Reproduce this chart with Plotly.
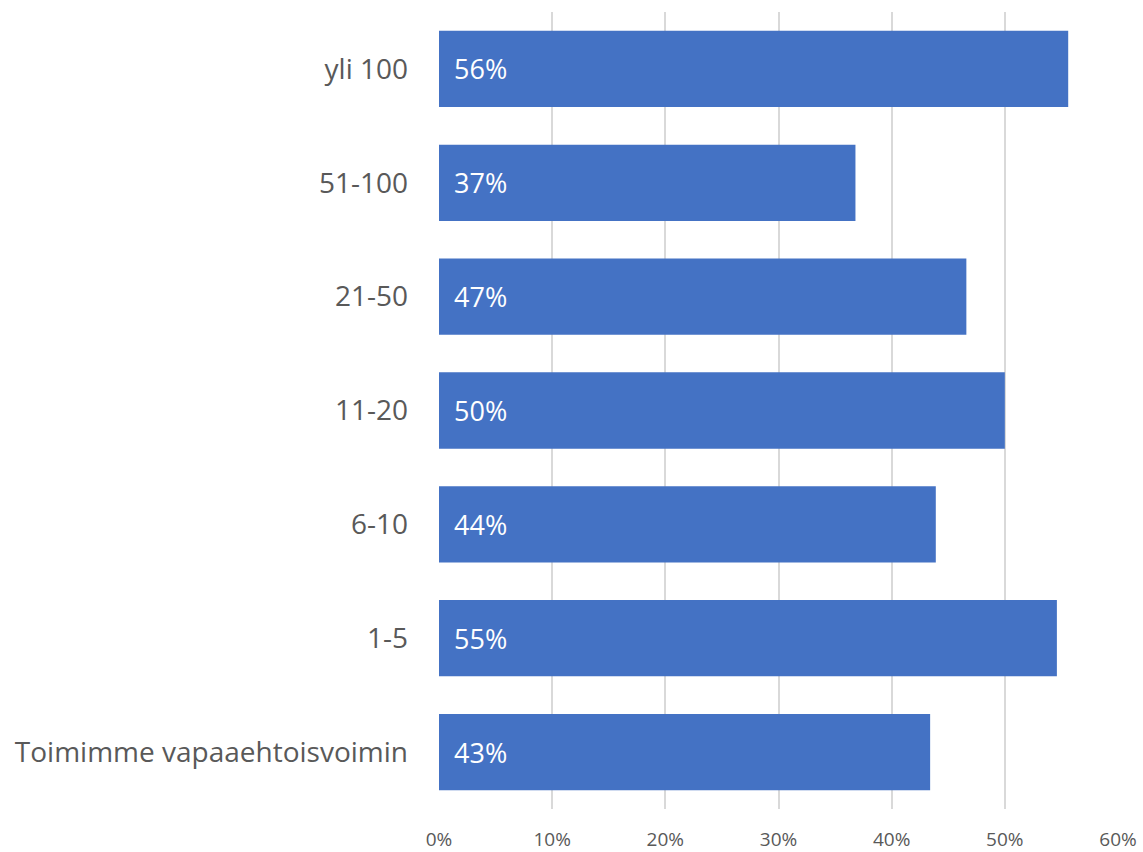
import plotly.graph_objects as go

# Categories listed bottom to top
categories = [
    "Toimimme vapaaehtoisvoimin",
    "1-5",
    "6-10",
    "11-20",
    "21-50",
    "51-100",
    "yli 100",
]
shares = [0.434, 0.546, 0.439, 0.500, 0.466, 0.368, 0.556]
x_ticks = [0, 0.1, 0.2, 0.3, 0.4, 0.5, 0.6]

BAR_COLOR = "#4472C4"
TEXT_GRAY = "#595959"
FONT = "Open Sans"

fig = go.Figure(
    go.Bar(
        x=shares,
        y=categories,
        orientation="h",
        marker=dict(color=BAR_COLOR, line=dict(width=0)),
        hoverinfo="skip",
    )
)

# Value labels sit inside each bar near its base
for cat, val in zip(categories, shares):
    fig.add_annotation(
        x=0,
        y=cat,
        xref="x",
        yref="y",
        text=f"{round(val * 100):.0f}%",
        showarrow=False,
        xanchor="left",
        xshift=13,
        font=dict(family=FONT, size=27, color="white"),
    )

fig.update_layout(
    width=1143,
    height=852,
    margin=dict(l=439, r=25, t=12, b=43),
    paper_bgcolor="white",
    plot_bgcolor="white",
    bargap=0.33,
    showlegend=False,
    font=dict(family=FONT, color=TEXT_GRAY),
)
fig.update_xaxes(
    range=[0, 0.6],
    tickvals=x_ticks,
    tickformat=".0%",
    showgrid=True,
    gridcolor="#D9D9D9",
    gridwidth=2,
    zeroline=False,
    showline=False,
    tickfont=dict(family=FONT, size=19, color=TEXT_GRAY),
    ticklabelstandoff=17,
    automargin=False,
    fixedrange=True,
)
fig.update_yaxes(
    categoryorder="array",
    categoryarray=categories,
    showgrid=False,
    showline=False,
    ticks="",
    ticklabelstandoff=30,
    tickfont=dict(family=FONT, size=28, color=TEXT_GRAY),
    automargin=False,
    fixedrange=True,
)

fig.write_html("out.html")
